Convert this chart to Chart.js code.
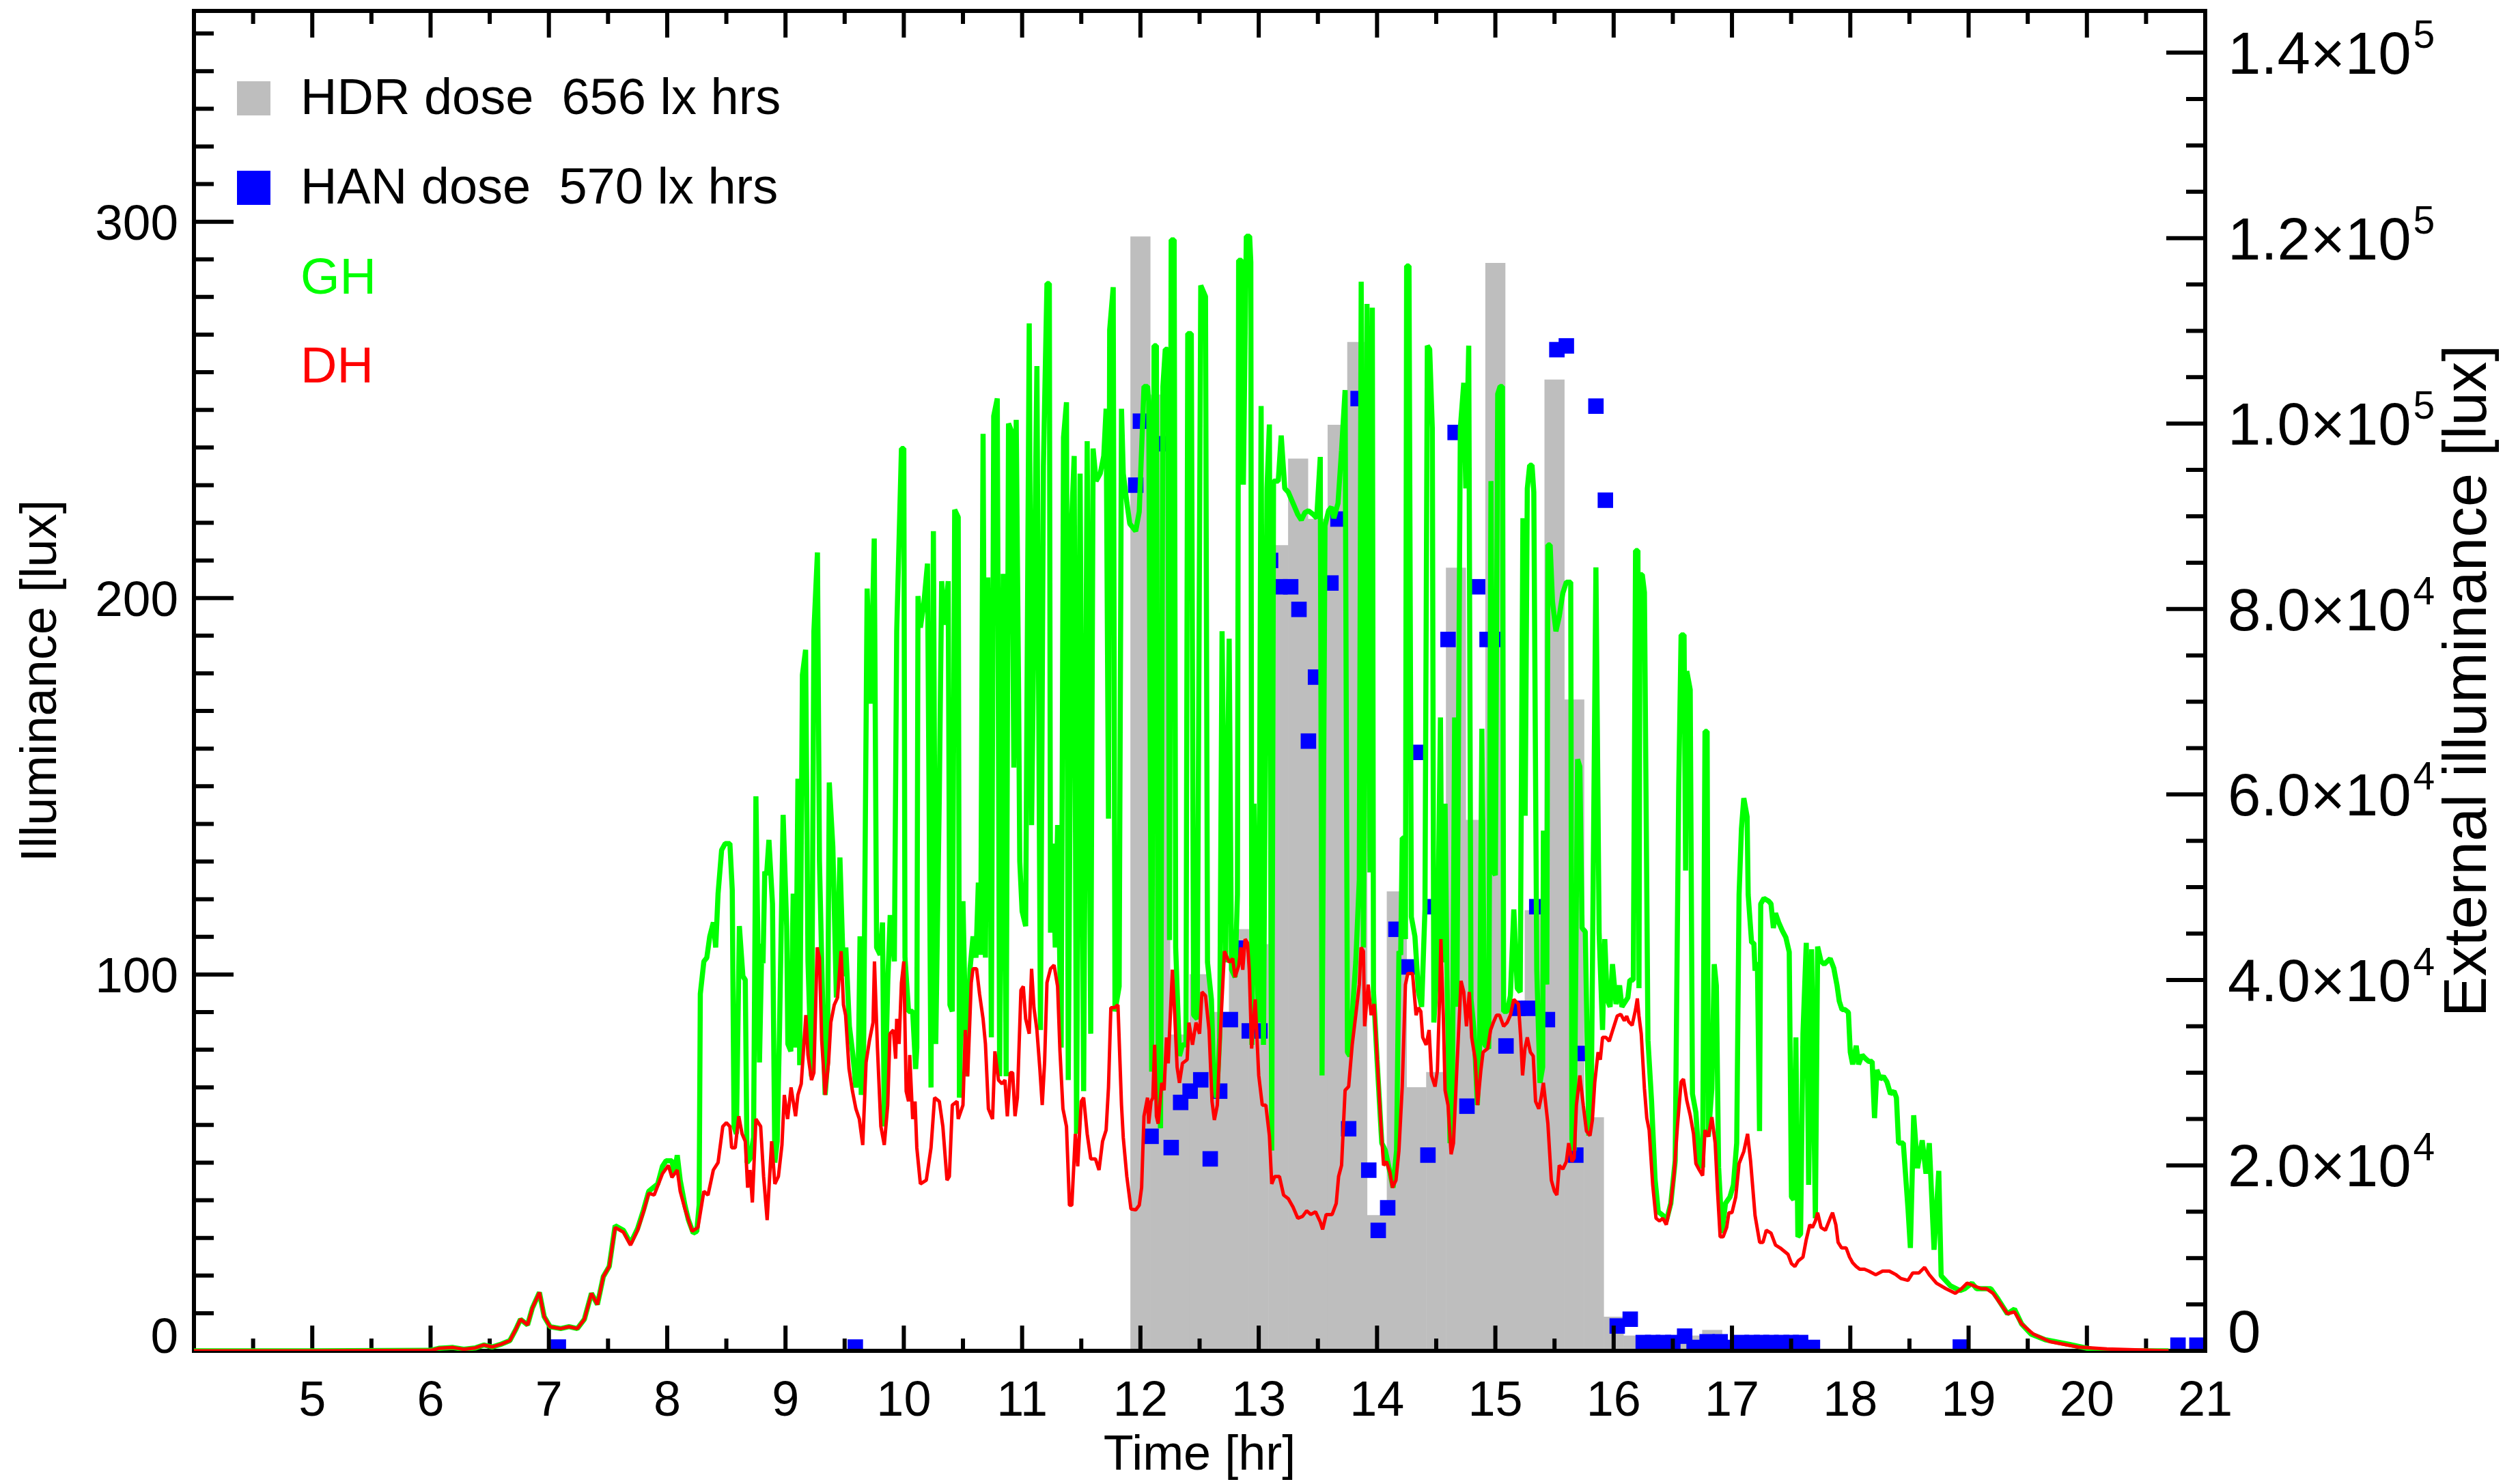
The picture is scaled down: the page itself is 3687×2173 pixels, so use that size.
<!DOCTYPE html>
<html lang="en">
<head>
	<meta charset="UTF-8">
	<title>Illuminance - HDR / HAN dose</title>
	<script src="https://cdn.jsdelivr.net/npm/chart.js"></script>
	<style>
		html, body { margin: 0; padding: 0; background: #fff; }
		#wrap { width: 3687px; height: 2173px; position: relative; }
	</style>
</head>
<body>
	<div id="wrap"><canvas id="mainChart"></canvas></div>

	<script>
		// [hour, klux] external global horizontal illuminance
		const ghSeries = [
			[4.0,0],[5.0,0],[6.0,0.05],[6.07,0.27],[6.19,0.36],[6.28,0.17],[6.38,0.32],[6.45,0.63],[6.52,0.42],[6.6,0.73],[6.67,1.1],[6.72,2.3],[6.76,3.4],[6.82,2.8],[6.86,4.6],[6.92,6.3],[6.96,3.7],[7.01,2.6],[7.1,2.4],[7.17,2.6],[7.24,2.4],[7.3,3.4],[7.36,6.2],[7.41,5.0],[7.46,8.0],[7.51,9.1],[7.56,13.5],[7.63,13.0],[7.69,11.6],[7.75,13.2],[7.8,15.2],[7.844,17.2],[7.92,18.0],[7.96,19.9],[7.99,20.5],[8.04,20.5],[8.06,19.1],[8.085,21.1],[8.11,18.4],[8.15,15.7],[8.18,14.1],[8.22,12.7],[8.25,12.9],[8.27,15.7],
			[8.28,38.5],[8.31,42],[8.335,42.4],[8.36,44.7],[8.39,46.2],[8.41,43.5],[8.43,49.3],[8.46,54],[8.49,54.7],[8.53,54.7],[8.55,49.7],[8.565,24.2],[8.585,23.4],[8.61,45.8],[8.64,40.4],[8.66,40],[8.675,20.3],[8.70,20.7],[8.73,23],[8.75,59.8],[8.78,31.1],[8.80,43.9],[8.81,41.8],[8.825,51.7],[8.84,51.3],[8.86,55.1],[8.89,48.2],[8.91,20.3],[8.93,22.6],[8.95,35],[8.98,57.8],[9.01,45.8],[9.02,33.1],[9.045,32.3],[9.065,49.3],[9.085,32.7],[9.105,61.7],[9.12,30.8],[9.143,72.9],[9.17,75.6],[9.19,42],[9.22,29.6],[9.24,77.6],[9.27,86.1],[9.287,52.8],[9.32,34.2],[9.335,27.6],[9.355,31.1],[9.37,61.3],[9.40,54.4],[9.43,38.1],[9.46,53.2],[9.49,40.4],[9.51,43.5],[9.54,35],[9.57,31.9],[9.595,28.4],[9.615,30.4],[9.63,44.7],[9.64,27.6],[9.66,31.9],[9.69,82.2],[9.72,69.8],[9.75,87.6],[9.77,43.5],[9.80,42.7],[9.82,46.2],[9.835,24.2],[9.865,40],[9.885,47],[9.92,42],[9.94,77.6],[9.98,97.3],[10.0,97.3],
			[10.01,42.4],[10.04,36.6],[10.075,36.6],[10.1,30.4],[10.11,32.7],[10.12,81.4],[10.14,78],[10.17,80.7],[10.2,84.9],[10.23,28.4],[10.25,88.4],[10.27,33.1],[10.3,59.8],[10.32,83],[10.345,78.3],[10.375,83],[10.39,37.3],[10.41,36.6],[10.43,90.7],[10.46,89.9],[10.47,27.3],[10.5,48.5],[10.53,29.6],[10.56,41.2],[10.585,44.7],[10.61,42.4],[10.63,50.5],[10.65,42.7],[10.67,98.9],[10.69,42.4],[10.71,83.4],[10.73,60.5],[10.74,33.8],[10.76,100.8],[10.79,102.7],[10.81,29.6],[10.84,83.8],[10.865,29.6],[10.885,100],[10.91,99.2],[10.93,62.9],[10.95,100.4],[10.97,71.4],[10.98,52.8],[11.0,47.4],[11.03,45.8],[11.06,110.8],[11.08,56.7],[11.1,78.7],[11.125,106.2],[11.155,34.6],[11.18,95.4],[11.21,115.1],[11.23,115.1],[11.24,45.1],[11.26,54.7],[11.28,43.5],[11.3,56.7],[11.33,32.7],[11.35,98.5],[11.375,102.3],[11.39,29.2],[11.42,90],[11.44,96.5],[11.46,23.4],[11.49,94.6],[11.52,28],[11.55,98.1],[11.58,34.2],[11.6,97.3],[11.625,93.8],[11.66,94.6],[11.69,96.5],[11.71,101.6],[11.73,57.4],[11.74,110.1],[11.77,114.7],[11.785,36.6],[11.82,39.3],[11.84,101.6],[11.855,94.6],[11.885,91.5],[11.91,89.2],[11.96,88.4],[11.99,90.5],
			[12.03,104],[12.06,104],[12.07,102.4],[12.095,30.1],[12.115,108.4],[12.135,108.4],[12.15,29.7],[12.17,24],[12.19,104],[12.21,108],[12.23,108],[12.246,44.3],[12.26,119.8],[12.285,119.8],[12.298,43.5],[12.33,31.8],[12.355,33],[12.385,33],[12.4,109.7],[12.43,109.7],[12.45,36.2],[12.48,35.8],[12.51,114.9],[12.55,113.7],[12.567,41.9],[12.6,37.9],[12.62,28.9],[12.645,27.3],[12.67,33.8],[12.69,77.6],[12.72,41.9],[12.75,76.8],[12.77,41.1],[12.8,40.3],[12.82,49.2],[12.83,117.6],[12.855,117.6],[12.87,93.4],[12.895,120.2],[12.923,120.2],[12.933,117.4],[12.942,33],[12.96,59],[12.98,43.5],[13.0,35.4],[13.02,101.9],[13.04,33],[13.07,93],[13.09,99.9],[13.11,21.6],[13.125,93.8],[13.165,93.8],[13.19,98.7],[13.22,93],[13.25,92.6],[13.29,91.4],[13.33,90.2],[13.36,89.6],[13.39,90.4],[13.42,90.6],[13.46,90.2],[13.49,89.8],[13.52,96.4],[13.535,29.7],[13.56,89],[13.59,90.6],[13.615,91],[13.635,89.8],[13.67,91.4],[13.7,97.1],[13.73,103.6],[13.75,32.2],[13.77,31.8],[13.79,36.2],[13.82,41.9],[13.85,50.8],[13.866,115.3],[13.885,43.5],[13.915,112.9],[13.94,51.6],[13.96,112.5],[13.97,38.7],
			[14.0,31.4],[14.04,22.4],[14.07,21.6],[14.11,19.2],[14.135,17.6],[14.165,21.6],[14.185,43.1],[14.2,42.7],[14.213,55.3],[14.23,55.3],[14.24,44.4],[14.25,117],[14.27,117],[14.29,46.8],[14.32,44.7],[14.35,38.7],[14.377,37.1],[14.405,47.6],[14.425,108.4],[14.445,108],[14.467,99.5],[14.48,35.4],[14.51,41.9],[14.536,68.3],[14.55,41.9],[14.575,59],[14.59,41.1],[14.617,22.4],[14.636,25.7],[14.656,68.3],[14.675,37.1],[14.704,99.5],[14.733,104.4],[14.75,93],[14.775,108.4],[14.794,37.9],[14.82,34.6],[14.848,26.5],[14.867,33],[14.886,67.1],[14.91,33],[14.944,32.6],[14.963,93.8],[14.983,51.7],[15.0,51.3],[15.02,103.2],[15.04,104],[15.06,104],[15.07,36.6],[15.1,36.6],[15.127,38.3],[15.156,47.6],[15.185,39.1],[15.21,38.7],[15.233,89.8],[15.252,57.7],[15.27,93],[15.29,95.5],[15.31,95.5],[15.325,92.6],[15.35,41.1],[15.377,28.9],[15.4,30.6],[15.406,56.1],[15.435,39.5],[15.444,86.9],[15.463,86.9],[15.483,80.8],[15.512,77.6],[15.54,79.2],[15.57,81.7],[15.6,82.9],[15.637,82.9],[15.647,22.8],[15.666,21.6],[15.695,63.8],[15.714,63],[15.733,45.6],[15.76,45.2],[15.79,23.2],[15.81,25.7],[15.85,84.5],[15.877,45.1],[15.906,34.6],[15.925,44.4],[15.945,37.9],[15.97,37.1],[15.99,41.7],
			[16.02,37.4],[16.05,39.4],[16.07,37.1],[16.12,38.1],[16.137,40],[16.166,40],[16.185,86.3],[16.205,86.3],[16.214,39.1],[16.223,83.7],[16.242,83.7],[16.26,81.8],[16.29,33.5],[16.32,27],[16.35,18.5],[16.377,15],[16.416,14.6],[16.445,14],[16.483,15.9],[16.52,20.5],[16.55,60.9],[16.57,77.2],[16.595,77.2],[16.608,51.8],[16.618,73.3],[16.647,71.3],[16.666,27.7],[16.695,25.7],[16.724,20.2],[16.752,19.8],[16.772,66.8],[16.79,66.8],[16.8,23.1],[16.83,28.3],[16.85,41.7],[16.868,39.4],[16.887,19.8],[16.916,12.7],[16.945,15.9],[16.983,16.6],[17.012,17.9],[17.04,22.4],[17.06,49.2],[17.08,56.3],[17.1,59.6],[17.128,57.6],[17.137,49.2],[17.166,44],[17.185,44],[17.195,41],[17.215,41.9],[17.233,23.7],[17.243,48.2],[17.27,48.8],[17.31,48.5],[17.33,48.2],[17.35,45.6],[17.368,47.2],[17.395,46.2],[17.426,45.3],[17.455,44.6],[17.484,43],[17.503,16.6],[17.522,16.3],[17.54,33.8],[17.557,12.3],[17.58,12.6],[17.6,34.2],[17.628,44],[17.648,17.9],[17.673,43.3],[17.705,14.3],[17.724,43.6],[17.753,42],[17.78,41.7],[17.83,42.3],[17.86,41.3],[17.888,39.4],[17.907,37.7],[17.93,36.8],[17.955,36.8],[17.984,36.5],
			[18.0,32.2],[18.02,30.9],[18.05,32.9],[18.07,30.9],[18.1,31.9],[18.13,31.5],[18.157,31.2],[18.185,31.2],[18.205,25.1],[18.225,30.3],[18.253,29.3],[18.28,29.6],[18.31,29],[18.34,27.7],[18.37,28],[18.39,27.3],[18.408,22.4],[18.448,22.4],[18.488,15.3],[18.508,11.1],[18.536,25.4],[18.568,19.7],[18.608,22.7],[18.64,19.1],[18.668,22.4],[18.708,10.9],[18.748,19.4],[18.768,8.1],[18.848,7.0],[18.928,6.5],[18.968,6.7],[19.028,7.3],[19.068,6.7],[19.128,6.7],[19.188,6.7],[19.248,5.6],[19.328,4.0],[19.388,4.5],[19.448,2.9],[19.528,1.8],[19.648,1.2],[19.848,0.7],[20.048,0.15],[20.248,0],[20.69,0]
		]

		// [hour, klux] external diffuse horizontal illuminance
		const dhSeries = [
			[4.0,0],[5.0,0],[6.0,0.05],[6.07,0.27],[6.19,0.36],[6.28,0.17],[6.38,0.32],[6.45,0.63],[6.52,0.42],[6.6,0.73],[6.67,1.1],[6.72,2.3],[6.76,3.4],[6.82,2.8],[6.86,4.6],[6.92,6.3],[6.96,3.7],[7.01,2.6],[7.1,2.4],[7.17,2.6],[7.24,2.4],[7.3,3.4],[7.36,6.2],[7.41,5.0],[7.46,8.0],[7.51,9.1],[7.56,13.3],[7.63,12.8],[7.69,11.4],[7.75,13.0],[7.8,15.0],[7.844,17.0],[7.89,16.8],[7.96,19.1],[8.01,20],[8.04,18.7],[8.085,19.5],[8.11,17.2],[8.15,15.3],[8.21,12.9],[8.26,13.3],[8.31,17.2],[8.345,16.8],[8.39,19.5],[8.43,20.3],[8.47,24.2],[8.50,24.6],[8.53,24.2],[8.545,21.9],[8.575,21.9],[8.605,25.3],[8.633,23.4],[8.66,22.6],[8.68,17.6],[8.70,19.5],[8.72,16],[8.75,25],[8.79,24.2],[8.815,18.8],[8.845,14.1],[8.883,22.6],[8.91,18],[8.94,18.8],[8.97,22.2],[8.99,27.6],[9.018,25],[9.047,28.4],[9.085,25.3],[9.105,27.6],[9.133,28.8],[9.172,36.2],[9.19,31.9],[9.22,29.2],[9.24,30],[9.268,43.5],[9.287,42.4],[9.306,33.5],[9.335,27.6],[9.364,31.1],[9.383,35.4],[9.412,37.3],[9.44,38.1],[9.47,43.1],[9.49,37.3],[9.508,36.2],[9.537,30.4],[9.566,28],[9.595,26.1],[9.624,25],[9.653,22.2],[9.681,31.1],[9.71,33.5],[9.74,35.4],[9.752,42],[9.777,32.7],[9.806,24.2],[9.835,22.2],[9.864,26.5],[9.883,34.2],[9.912,34.6],[9.931,31.5],[9.94,35.8],[9.96,33.1],[9.98,39.7],[10.0,42],
			[10.02,28],[10.04,26.9],[10.05,31.9],[10.075,25],[10.095,26.9],[10.11,21.9],[10.14,18],[10.19,18.4],[10.23,21.9],[10.26,27.3],[10.3,26.9],[10.33,24.2],[10.365,18.4],[10.385,18.8],[10.41,26.5],[10.45,26.9],[10.46,25],[10.5,26.5],[10.52,34.6],[10.54,29.6],[10.57,39.7],[10.585,41.2],[10.615,41.2],[10.64,38.5],[10.67,35.8],[10.69,33.1],[10.715,26.1],[10.75,25],[10.77,32.3],[10.8,29.2],[10.83,28.8],[10.855,29.2],[10.875,25.3],[10.9,30],[10.92,30],[10.94,25.3],[10.96,27.3],[10.99,38.9],[11.01,39.3],[11.03,35.8],[11.06,34.2],[11.08,41.2],[11.1,37],[11.125,34.6],[11.15,30.4],[11.17,26.5],[11.19,31.1],[11.21,39.7],[11.24,41.2],[11.27,41.6],[11.3,39.3],[11.32,32.3],[11.345,26.1],[11.375,24.2],[11.4,15.7],[11.42,15.7],[11.45,23.4],[11.47,19.9],[11.5,26.9],[11.52,27.3],[11.55,23.4],[11.58,20.7],[11.62,20.7],[11.65,19.5],[11.68,22.6],[11.71,23.8],[11.73,28.4],[11.75,37],[11.78,37],[11.81,37.3],[11.84,26.5],[11.855,23],[11.885,18.8],[11.92,15.3],[11.96,15.2],[11.99,15.7],
			[12.01,17.6],[12.03,25.3],[12.06,27.3],[12.07,24.5],[12.09,26.9],[12.105,27.3],[12.12,33],[12.135,25.3],[12.15,24.5],[12.18,28.9],[12.2,28.1],[12.22,33.8],[12.235,31],[12.25,35.4],[12.27,41.1],[12.29,36.2],[12.31,30.6],[12.33,28.9],[12.355,31],[12.395,31.4],[12.41,35.4],[12.44,33],[12.47,35.4],[12.5,34.2],[12.52,38.7],[12.55,38.3],[12.58,34.6],[12.605,26.9],[12.625,24.9],[12.65,26.5],[12.68,35.4],[12.71,43.1],[12.75,41.9],[12.78,42.3],[12.8,40.3],[12.83,41.5],[12.85,43.5],[12.865,41.1],[12.885,44.4],[12.905,44],[12.92,41.1],[12.94,32.6],[12.97,37.9],[13.0,29.7],[13.03,26.5],[13.06,26.5],[13.09,23.2],[13.11,18],[13.135,18.8],[13.175,18.8],[13.21,16.8],[13.25,16.4],[13.29,15.5],[13.33,14.3],[13.37,14.5],[13.405,15.1],[13.44,14.7],[13.48,15],[13.52,13.9],[13.54,13.1],[13.57,14.7],[13.62,14.7],[13.655,15.9],[13.675,18.8],[13.7,20],[13.73,28.1],[13.76,28.5],[13.79,33],[13.82,36.2],[13.85,39.5],[13.865,43.5],[13.885,43.1],[13.895,35],[13.925,39.5],[13.95,36.2],[13.975,37.4],
			[14.0,31.8],[14.03,24.9],[14.055,20],[14.08,20.4],[14.11,19.2],[14.13,17.6],[14.16,18.4],[14.185,21.6],[14.213,28.5],[14.24,39.5],[14.26,40.7],[14.3,40.7],[14.33,36.2],[14.35,37],[14.37,36.6],[14.386,33.8],[14.415,33],[14.44,34.6],[14.46,29.7],[14.49,28.5],[14.51,30.2],[14.53,38.7],[14.54,44.4],[14.56,36.2],[14.575,28.1],[14.6,26.5],[14.626,21.2],[14.646,22.4],[14.675,30.6],[14.71,39.9],[14.733,38.7],[14.756,35],[14.78,38.7],[14.8,33.8],[14.83,31.4],[14.85,26.5],[14.877,30.2],[14.896,32.2],[14.935,32.6],[14.96,34.6],[14.983,35.4],[15.01,36.2],[15.035,36.2],[15.07,35],[15.1,35.4],[15.127,36.2],[15.156,37.9],[15.195,37.4],[15.214,33.8],[15.23,29.7],[15.25,32.6],[15.27,33.8],[15.296,32.2],[15.32,31.8],[15.34,26.9],[15.367,26.1],[15.387,27.3],[15.406,28.9],[15.444,24.5],[15.473,18.4],[15.5,17.2],[15.52,16.8],[15.54,20],[15.57,19.6],[15.6,20.4],[15.62,22.4],[15.647,20.4],[15.666,20.8],[15.685,26.5],[15.714,29.7],[15.743,26.5],[15.77,23.7],[15.8,23.2],[15.82,24.9],[15.84,28.9],[15.868,32.2],[15.887,31.4],[15.906,33.8],[15.935,33.8],[15.963,33.4],[15.99,34.5],
			[16.03,36.1],[16.06,36.3],[16.09,35.6],[16.11,36.1],[16.127,35.5],[16.156,35.1],[16.185,36.8],[16.2,38],[16.214,36.1],[16.233,34.2],[16.26,28.3],[16.28,25.1],[16.3,23.8],[16.33,17.9],[16.358,14.3],[16.387,14],[16.416,14.3],[16.445,13.6],[16.483,15.9],[16.512,19.2],[16.54,24.4],[16.57,29],[16.59,29.3],[16.618,27],[16.647,25.4],[16.675,23.4],[16.695,20.2],[16.724,19.5],[16.752,18.9],[16.772,23.8],[16.8,23.1],[16.83,25.2],[16.858,22.4],[16.878,17.2],[16.9,12.3],[16.925,12.3],[16.955,13.3],[16.974,14.9],[17.0,14.9],[17.032,16.6],[17.06,20.2],[17.1,21.5],[17.132,23.4],[17.157,20.5],[17.195,14.6],[17.234,11.7],[17.262,11.7],[17.29,13],[17.33,12.7],[17.368,11.4],[17.407,11.1],[17.474,10.4],[17.503,9.4],[17.532,9.1],[17.56,9.7],[17.6,10.1],[17.628,12],[17.658,13.6],[17.68,13.3],[17.705,14],[17.724,14.9],[17.753,13.3],[17.79,13],[17.83,14.3],[17.85,14.9],[17.878,13.6],[17.897,11.7],[17.926,11.1],[17.965,11.1],[17.994,10.1],
			[18.02,9.5],[18.05,9.1],[18.08,8.8],[18.12,8.8],[18.157,8.6],[18.215,8.2],[18.273,8.6],[18.33,8.6],[18.388,8.2],[18.428,7.8],[18.488,7.6],[18.528,8.4],[18.58,8.4],[18.628,9],[18.668,8.2],[18.728,7.3],[18.808,6.7],[18.888,6.2],[18.94,6.7],[18.988,7.3],[19.048,7],[19.108,6.7],[19.15,6.7],[19.208,6.2],[19.268,5.1],[19.328,4],[19.388,4.2],[19.448,2.9],[19.548,1.8],[19.688,1.0],[19.928,0.4],[20.168,0.2],[20.69,0]
		]

		// [bar centre hour, lux] HDR dose, 10 minute bins
		const hdrBars = [
			[12.000,296],[12.167,254],[12.333,84],[12.500,100],[12.667,90],[12.833,112],[13.000,108],[13.167,214],[13.333,237],[13.500,221],[13.667,246],[13.833,268],
			[14.000,36],[14.167,122],[14.333,70],[14.500,74],[14.667,208],[14.833,141],[15.000,289],[15.167,92],[15.333,117],[15.500,258],[15.667,173],[15.833,62],
			[16.000,9],[16.167,4],[16.333,2],[16.500,3],[16.667,4],[16.833,5.5],[17.000,2],[17.167,2],[17.333,2],[17.500,3]
		]

		// [hour, lux] HAN dose
		const hanPoints = [
			[7.08,1],[9.59,1],[11.96,230],[12.0,247],[12.09,57],[12.16,241],[12.26,54],[12.34,66],[12.42,69],[12.51,72],[12.59,51],[12.67,69],[12.76,88],[12.82,107],[12.92,85],[13.01,85],
			[13.10,210],[13.18,203],[13.27,203],[13.34,197],[13.42,162],[13.48,179],[13.61,204],[13.67,221],[13.76,59],[13.84,253],[13.93,48],[14.01,32],[14.09,38],[14.16,112],[14.27,102],[14.35,159],
			[14.43,52],[14.49,118],[14.60,189],[14.66,244],[14.76,65],[14.85,203],[14.93,189],[15.00,189],[15.09,81],[15.19,91],[15.28,91],[15.35,118],[15.44,88],[15.52,266],[15.60,267],[15.68,52],
			[15.76,79],[15.85,251],[15.93,226],[16.03,6.6],[16.14,8.4],[16.25,2.2],[16.33,2.2],[16.42,2.2],[16.50,2.2],[16.60,3.9],[16.68,0.9],[16.79,2.4],[16.90,2.4],[17.00,0.9],
			[17.08,2.2],[17.17,2.2],[17.25,2.2],[17.33,2.2],[17.42,2.2],[17.50,2.2],[17.58,2.2],[17.68,0.9],[18.93,1],[20.77,1.5],[20.93,1.5]
		]

		const xTickLabels = [5,6,7,8,9,10,11,12,13,14,15,16,17,18,19,20,21]
		const leftTickLabels = [0,100,200,300]
		const rightTickValues = [0,20000,40000,60000,80000,100000,120000,140000]
		const rightTickText = ["0","2.0","4.0","6.0","8.0","1.0","1.2","1.4"]
		const rightTickPower = ["","4","4","4","4","5","5","5"]

		const FONT = '"Liberation Sans", Arial, Helvetica, sans-serif'

		function put(ctx, str, x, y, size, color, align) {
			ctx.font = `${size}px ${FONT}`
			ctx.fillStyle = color
			ctx.textAlign = align
			ctx.textBaseline = "alphabetic"
			ctx.fillText(str, x, y)
			return ctx.measureText(str).width
		}

		function putRotated(ctx, str, x, y, size) {
			ctx.save()
			ctx.translate(x, y)
			ctx.rotate(-Math.PI / 2)
			put(ctx, str, 0, 0, size, "#000", "center")
			ctx.restore()
		}

		// box and inward ticks, drawn between the HAN squares and the lines
		function drawFrame(chart) {
			const {ctx, chartArea: a, scales} = chart
			ctx.save()
			ctx.strokeStyle = "#000"
			ctx.lineWidth = 6
			ctx.beginPath()
			for(let v = 4; v <= 21; v += 0.5) {
				const px = scales.x.getPixelForValue(v)
				const major = Number.isInteger(v)
				ctx.moveTo(px, a.bottom); ctx.lineTo(px, a.bottom - (major ? 37 : 18))
				ctx.moveTo(px, a.top); ctx.lineTo(px, a.top + (major ? 39 : 19))
			}
			for(let v = 0; v <= 356; v += 10) {
				const py = scales.yl.getPixelForValue(v)
				ctx.moveTo(a.left, py); ctx.lineTo(a.left + (v % 100 === 0 ? 58 : 29), py)
			}
			for(let v = 0; v <= 144500; v += 5000) {
				const py = scales.yr.getPixelForValue(v)
				ctx.moveTo(a.right, py); ctx.lineTo(a.right - (v % 20000 === 0 ? 57 : 28), py)
			}
			ctx.stroke()
			ctx.strokeRect(a.left, a.top, a.right - a.left, a.bottom - a.top)
			ctx.restore()
		}

		function drawLabels(chart) {
			const {ctx, chartArea: a, scales} = chart
			ctx.save()
			xTickLabels.forEach(v => put(ctx, String(v), scales.x.getPixelForValue(v), 2073, 72, "#000", "center"))
			leftTickLabels.forEach(v => {
				const py = v === 0 ? a.bottom + 3 : scales.yl.getPixelForValue(v) + 26
				put(ctx, String(v), 261, py, 73, "#000", "right")
			})
			rightTickValues.forEach((v, i) => {
				const tick = scales.yr.getPixelForValue(v)
				const py = v === 0 ? a.bottom + 2 : tick + 31
				const w = put(ctx, rightTickText[i] + (rightTickPower[i] ? "\u00d710" : ""), 3262, py, 87, "#000", "left")
				if(rightTickPower[i]) {
					put(ctx, rightTickPower[i], 3262 + w + 3, tick - 7, 57, "#000", "left")
				}
			})

			put(ctx, "Time [hr]", (a.left + a.right) / 2, 2152, 72, "#000", "center")
			putRotated(ctx, "Illuminance [lux]", 82, (a.top + a.bottom) / 2, 74)
			putRotated(ctx, "External illuminance [lux]", 3640, (a.top + a.bottom) / 2, 89)

			// legend, built from the datasets
			const ds = chart.data.datasets
			const rows = [ds[0], ds[1], ds[2], ds[3]]
			const baselines = [167, 298, 430, 560]
			rows.forEach((d, i) => {
				if(d.type === "line" && d.showLine !== false) {
					put(ctx, d.label, 440, baselines[i], 74, d.borderColor, "left")
				} else {
					ctx.fillStyle = d.backgroundColor
					ctx.fillRect(347, baselines[i] - 48, 49, 50)
					put(ctx, d.label, 440, baselines[i], 74, "#000", "left")
				}
			})
			ctx.restore()
		}

		const framePlugin = {
			id: "idlFrame",
			afterDatasetDraw(chart, args) {
				if(args.index === 1) drawFrame(chart)
			},
			afterDraw(chart) {
				drawLabels(chart)
			}
		}

		const ctx = document.getElementById("mainChart")
		new Chart(ctx, {
			type: "line",
			data: {
				datasets: [
					{
						type: "bar",
						label: "HDR dose  656 lx hrs",
						data: hdrBars.map(p => ({x: p[0], y: p[1]})),
						yAxisID: "yl",
						backgroundColor: "#bebebe",
						borderWidth: 0,
						barPercentage: 1,
						categoryPercentage: 1,
						grouped: false,
						order: 3
					},
					{
						type: "line",
						label: "HAN dose  570 lx hrs",
						data: hanPoints.map(p => ({x: p[0], y: p[1]})),
						yAxisID: "yl",
						showLine: false,
						pointStyle: "rect",
						pointRadius: 16,
						pointBorderWidth: 0,
						backgroundColor: "#0000ff",
						pointBackgroundColor: "#0000ff",
						order: 2
					},
					{
						type: "line",
						label: "GH",
						data: ghSeries.map(p => ({x: p[0], y: p[1] * 1000})),
						yAxisID: "yr",
						borderColor: "#00ff00",
						borderWidth: 7.5,
						borderJoinStyle: "bevel",
						pointRadius: 0,
						tension: 0,
						order: 1
					},
					{
						type: "line",
						label: "DH",
						data: dhSeries.map(p => ({x: p[0], y: p[1] * 1000})),
						yAxisID: "yr",
						borderColor: "#ff0000",
						borderWidth: 5,
						borderJoinStyle: "bevel",
						pointRadius: 0,
						tension: 0,
						order: 0
					}
				]
			},
			options: {
				responsive: true,
				maintainAspectRatio: false,
				animation: false,
				devicePixelRatio: 1,
				events: [],
				layout: {padding: {left: 284, right: 458, top: 13, bottom: 195}},
				plugins: {
					legend: {display: false},
					tooltip: {enabled: false}
				},
				scales: {
					x: {type: "linear", min: 4, max: 21, offset: false, display: false},
					yl: {type: "linear", position: "left", min: 0, max: 356, display: false},
					yr: {type: "linear", position: "right", min: 0, max: 144500, display: false}
				}
			},
			plugins: [framePlugin]
		})
	</script>
</body>
</html>
